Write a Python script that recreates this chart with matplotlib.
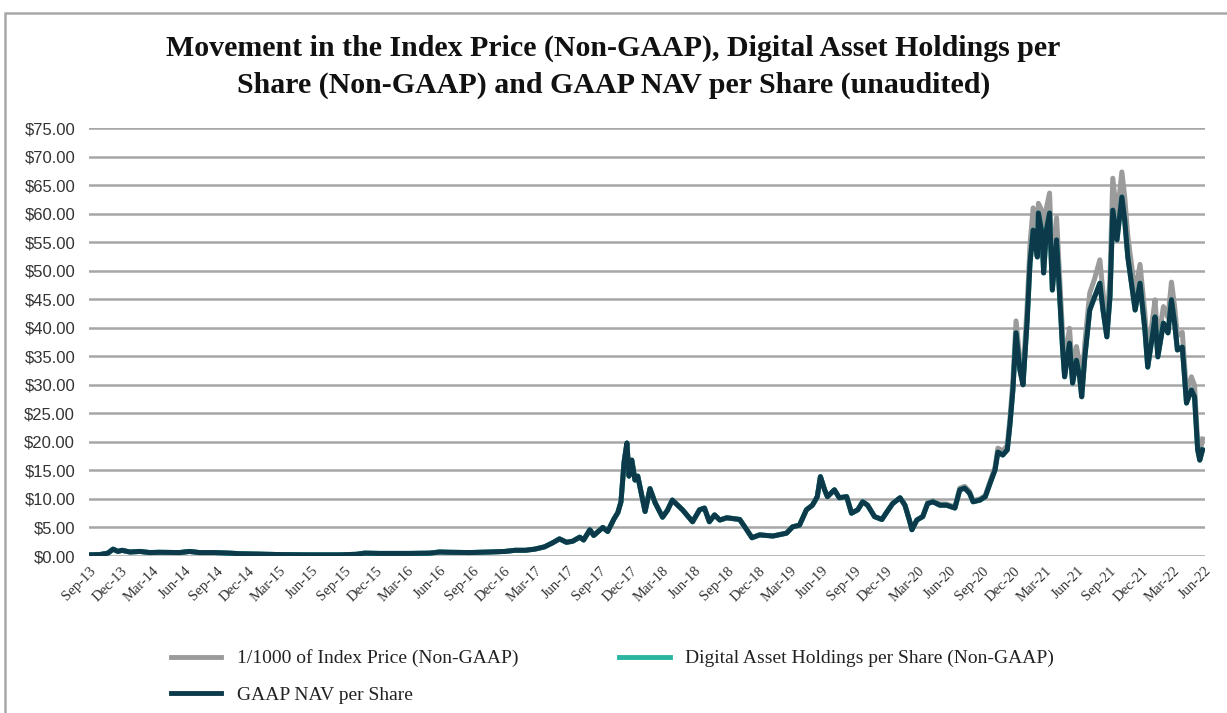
import pandas as pd
import matplotlib
matplotlib.use("Agg")
import matplotlib.pyplot as plt
from matplotlib.lines import Line2D
from matplotlib.patches import Rectangle

dates = [
    "2013-09-01", "2013-10-02", "2013-10-25", "2013-11-09", "2013-11-23", "2013-12-04", "2013-12-27",
    "2014-01-25", "2014-02-22", "2014-03-21", "2014-05-18", "2014-06-16", "2014-07-14", "2014-08-26",
    "2014-10-09", "2014-11-07", "2014-12-19", "2015-02-28", "2015-05-25", "2015-08-19", "2015-10-07",
    "2015-10-30", "2015-12-12", "2016-03-07", "2016-05-03", "2016-06-01", "2016-06-30", "2016-08-26",
    "2016-10-22", "2016-12-05", "2017-01-03", "2017-02-01", "2017-02-28", "2017-03-28", "2017-04-20",
    "2017-05-10", "2017-05-30", "2017-06-17", "2017-07-07", "2017-07-18", "2017-08-05", "2017-08-16",
    "2017-09-11", "2017-09-25", "2017-10-13", "2017-10-24", "2017-11-02", "2017-11-11", "2017-11-19",
    "2017-11-25", "2017-12-03", "2017-12-12", "2017-12-20", "2018-01-01", "2018-01-10", "2018-01-24",
    "2018-02-08", "2018-03-01", "2018-03-15", "2018-03-29", "2018-04-27", "2018-05-26", "2018-06-15",
    "2018-06-29", "2018-07-13", "2018-07-28", "2018-08-12", "2018-09-01", "2018-10-08", "2018-10-28",
    "2018-11-12", "2018-12-04", "2019-01-11", "2019-02-19", "2019-03-08", "2019-03-28", "2019-04-17",
    "2019-05-04", "2019-05-18", "2019-05-27", "2019-06-08", "2019-06-16", "2019-07-06", "2019-07-20",
    "2019-08-10", "2019-08-24", "2019-09-11", "2019-09-25", "2019-10-09", "2019-10-29", "2019-11-19",
    "2019-12-03", "2019-12-20", "2020-01-10", "2020-01-24", "2020-02-07", "2020-02-13", "2020-02-27",
    "2020-03-15", "2020-03-29", "2020-04-13", "2020-05-03", "2020-05-22", "2020-06-15", "2020-06-29",
    "2020-07-13", "2020-07-27", "2020-08-06", "2020-08-26", "2020-09-10", "2020-09-24", "2020-10-08",
    "2020-10-16", "2020-10-30", "2020-11-12", "2020-11-20", "2020-11-28", "2020-12-07", "2020-12-18",
    "2020-12-27", "2021-01-08", "2021-01-16", "2021-01-25", "2021-02-06", "2021-02-09", "2021-02-19",
    "2021-02-24", "2021-03-04", "2021-03-13", "2021-03-21", "2021-04-02", "2021-04-11", "2021-04-19",
    "2021-04-25", "2021-05-09", "2021-05-18", "2021-05-29", "2021-06-07", "2021-06-13", "2021-06-22",
    "2021-07-06", "2021-07-20", "2021-08-04", "2021-08-13", "2021-08-24", "2021-09-02", "2021-09-10",
    "2021-09-22", "2021-10-06", "2021-10-14", "2021-10-23", "2021-11-04", "2021-11-13", "2021-11-27",
    "2021-12-11", "2021-12-19", "2022-01-01", "2022-01-09", "2022-01-17", "2022-02-02", "2022-02-15",
    "2022-02-25", "2022-03-06", "2022-03-14", "2022-03-28", "2022-04-09", "2022-04-23", "2022-05-02",
    "2022-05-11", "2022-05-17", "2022-05-25",
]

# GAAP NAV per share
nav = [
    0.2, 0.25, 0.5, 1.2, 0.8, 1.0, 0.7,
    0.8, 0.6, 0.65, 0.6, 0.8, 0.6, 0.6,
    0.5, 0.4, 0.35, 0.25, 0.2, 0.2, 0.3,
    0.5, 0.45, 0.45, 0.5, 0.7, 0.65, 0.6,
    0.7, 0.8, 1.0, 1.0, 1.2, 1.6, 2.3,
    3.0, 2.4, 2.6, 3.3, 2.8, 4.6, 3.6,
    5.0, 4.3, 6.5, 7.6, 9.5, 16.5, 19.8,
    14.0, 16.8, 13.3, 14.0, 10.5, 7.8, 11.8,
    9.3, 6.8, 8.0, 9.8, 8.1, 6.0, 8.1,
    8.4, 6.0, 7.2, 6.3, 6.7, 6.4, 4.6,
    3.2, 3.7, 3.5, 4.0, 5.1, 5.4, 8.1,
    8.9, 10.4, 13.9, 11.6, 10.4, 11.6, 10.2,
    10.4, 7.5, 8.1, 9.5, 8.9, 6.9, 6.4,
    7.7, 9.2, 10.2, 8.9, 6.0, 4.6, 6.3,
    6.9, 9.2, 9.5, 8.9, 8.9, 8.4, 11.6,
    11.9, 11.0, 9.5, 9.8, 10.4, 12.8, 15.1,
    18.2, 17.7, 18.6, 23.3, 29.1, 39.1, 32.6,
    30.0, 41.4, 51.3, 57.1, 52.4, 60.1, 56.6,
    49.6, 57.1, 60.1, 46.6, 55.4, 45.4, 36.6,
    31.4, 37.3, 30.3, 34.3, 31.4, 27.9, 34.9,
    43.1, 45.4, 47.8, 43.1, 38.4, 45.4, 60.6,
    55.4, 62.9, 58.9, 52.4, 47.1, 43.1, 47.8,
    39.6, 33.1, 38.4, 41.9, 34.9, 40.8, 39.1,
    44.9, 40.8, 36.1, 36.6, 26.8, 29.1, 27.9,
    18.6, 16.8, 18.6,
]

# Digital asset holdings per share (sits right under the NAV line)
holdings = [
    0.2, 0.25, 0.5, 1.2, 0.8, 1.0, 0.7,
    0.8, 0.6, 0.65, 0.6, 0.8, 0.6, 0.6,
    0.5, 0.4, 0.35, 0.25, 0.2, 0.2, 0.3,
    0.5, 0.45, 0.45, 0.5, 0.7, 0.65, 0.6,
    0.7, 0.8, 1.0, 1.0, 1.2, 1.6, 2.3,
    3.0, 2.4, 2.6, 3.3, 2.8, 4.6, 3.6,
    5.0, 4.3, 6.5, 7.6, 9.5, 16.5, 19.8,
    14.0, 16.8, 13.3, 14.0, 10.5, 7.8, 11.8,
    9.3, 6.8, 8.0, 9.8, 8.1, 6.0, 8.1,
    8.4, 6.0, 7.2, 6.3, 6.7, 6.4, 4.6,
    3.2, 3.7, 3.5, 4.0, 5.1, 5.4, 8.1,
    8.9, 10.4, 13.9, 11.6, 10.4, 11.6, 10.2,
    10.4, 7.5, 8.1, 9.5, 8.9, 6.9, 6.4,
    7.7, 9.2, 10.2, 8.9, 6.0, 4.6, 6.3,
    6.9, 9.2, 9.5, 8.9, 8.9, 8.4, 11.6,
    11.9, 11.0, 9.5, 9.8, 10.4, 12.8, 15.1,
    18.2, 17.7, 18.6, 23.3, 29.1, 39.1, 32.6,
    30.0, 41.4, 51.3, 57.1, 52.4, 60.1, 56.6,
    49.6, 57.1, 60.1, 46.6, 55.4, 45.4, 36.6,
    31.4, 37.3, 30.3, 34.3, 31.4, 27.9, 34.9,
    43.1, 45.4, 47.8, 43.1, 38.4, 45.4, 60.6,
    55.4, 62.9, 58.9, 52.4, 47.1, 43.1, 47.8,
    39.6, 33.1, 38.4, 41.9, 34.9, 40.8, 39.1,
    44.9, 40.8, 36.1, 36.6, 26.8, 29.1, 27.9,
    18.6, 16.8, 18.6,
]

# 1/1000 of index price
index_price = [
    0.2, 0.25, 0.5, 1.2, 0.8, 1.0, 0.7,
    0.8, 0.6, 0.65, 0.6, 0.8, 0.6, 0.6,
    0.5, 0.4, 0.35, 0.25, 0.2, 0.2, 0.3,
    0.5, 0.45, 0.45, 0.5, 0.7, 0.65, 0.6,
    0.7, 0.8, 1.0, 1.0, 1.2, 1.6, 2.3,
    3.0, 2.4, 2.6, 3.3, 2.8, 4.6, 3.6,
    5.0, 4.3, 6.5, 7.6, 9.5, 16.5, 19.8,
    14.0, 16.8, 13.3, 14.0, 10.5, 7.8, 11.8,
    9.3, 6.8, 8.0, 9.8, 8.1, 6.0, 8.1,
    8.4, 6.0, 7.2, 6.3, 6.7, 6.4, 4.6,
    3.2, 3.7, 3.5, 4.0, 5.1, 5.4, 8.1,
    8.9, 10.4, 13.9, 11.6, 10.4, 11.6, 10.2,
    10.4, 7.5, 8.1, 9.5, 8.9, 6.9, 6.4,
    7.7, 9.2, 10.2, 8.9, 6.0, 4.6, 6.3,
    7.0, 9.4, 9.7, 9.1, 9.1, 8.6, 11.9,
    12.2, 11.3, 9.7, 10.0, 10.6, 13.1, 15.6,
    18.9, 18.4, 19.4, 24.4, 30.6, 41.2, 34.4,
    31.7, 44.0, 54.6, 61.0, 56.0, 61.8, 60.5,
    53.0, 61.0, 63.6, 49.9, 59.3, 48.6, 39.2,
    33.6, 39.9, 32.4, 36.7, 33.6, 29.9, 37.3,
    46.1, 48.6, 51.9, 46.1, 41.1, 48.6, 66.2,
    59.3, 67.3, 63.0, 56.1, 50.4, 46.1, 51.1,
    42.4, 35.4, 41.1, 44.9, 37.3, 43.7, 41.8,
    48.0, 43.7, 38.6, 39.2, 28.7, 31.4, 29.9,
    19.9, 18.0, 20.5,
]

x = pd.to_datetime(dates)
tick_dates = pd.date_range("2013-09-01", "2022-06-01", freq="3MS")

fig = plt.figure(figsize=(12.27, 7.13), dpi=100)
ax = fig.add_axes([89 / 1227, 1 - 556 / 713, (1205 - 89) / 1227, (556 - 128) / 713])

# chart frame like the excel chart area
fig.patches.append(Rectangle((5 / 1227, -0.1), 1.2, 1 - 13 / 713 + 0.1, transform=fig.transFigure,
                             fill=False, edgecolor="#a8a8a8", linewidth=1.8, zorder=0))

ax.plot(x, index_price, color="#9b9b9b", linewidth=3.6, zorder=3)
ax.plot(x, holdings, color="#2bb5a0", linewidth=3.6, zorder=4)
ax.plot(x, nav, color="#0d3a4b", linewidth=3.6, zorder=5)

ax.set_ylim(0, 75)
ax.set_xlim(tick_dates[0], tick_dates[-1])
ax.set_yticks(range(0, 80, 5))
ax.set_yticklabels(["$%.2f" % v for v in range(0, 80, 5)],
                   family=["Liberation Sans Narrow", "Liberation Sans"], fontsize=12, color="#333333")
ax.tick_params(axis="y", length=0, pad=10)
ax.set_xticks(tick_dates)
ax.set_xticklabels([d.strftime("%b-%y") for d in tick_dates], rotation=45, ha="right",
                   rotation_mode="anchor", family="Liberation Serif", fontsize=10.5, color="#333333")
ax.tick_params(axis="x", length=0, pad=6)
ax.grid(axis="y", color="#a6a6a6", linewidth=1.8)
ax.set_axisbelow(True)
for s in ax.spines.values():
    s.set_visible(False)

fig.text(0.5, 1 - 67 / 713, "Movement in the Index Price (Non-GAAP), Digital Asset Holdings per\n"
         "Share (Non-GAAP) and GAAP NAV per Share (unaudited)",
         ha="center", va="center", family="Liberation Serif", fontweight="bold",
         fontsize=21.5, linespacing=1.45, color="#111111")

handles = [Line2D([], [], color="#9b9b9b", linewidth=3.5),
           Line2D([], [], color="#0d3a4b", linewidth=3.5),
           Line2D([], [], color="#2bb5a0", linewidth=3.5)]
labels = ["1/1000 of Index Price (Non-GAAP)", "GAAP NAV per Share",
          "Digital Asset Holdings per Share (Non-GAAP)"]
fig.legend(handles, labels, ncol=2, loc="upper left", bbox_to_anchor=(153 / 1227, 1 - 632 / 713),
           frameon=False, prop={"family": "Liberation Serif", "size": 14}, handlelength=2.6,
           columnspacing=5.2, labelspacing=0.95, labelcolor="#222222")

fig.savefig("out.png", dpi=100)
